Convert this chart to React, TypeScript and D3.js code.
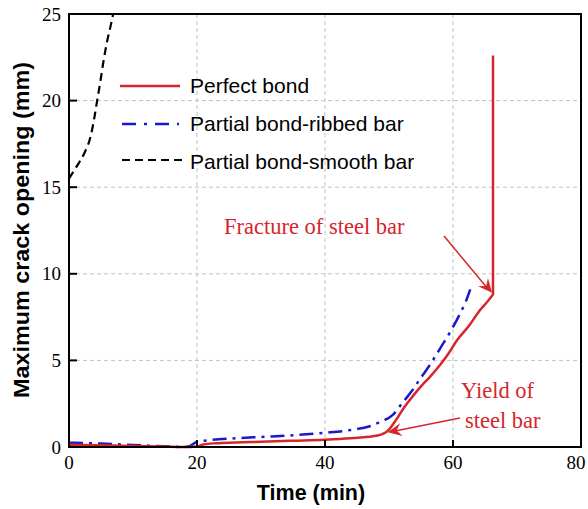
import React from "react";
import * as d3 from "d3";

const perfectX = [0, 5, 10, 15, 18, 20, 21, 23, 26, 30, 35, 40, 44, 46, 47.5, 48.6, 49.4, 50.1, 50.8, 51.6, 52.5, 53.75, 55, 56.4, 58, 59.3, 60.6, 62.5, 64.2, 65.4, 66.25];
const perfectY = [0.13, 0.1, 0.06, 0.02, 0.0, 0.03, 0.15, 0.22, 0.26, 0.3, 0.36, 0.42, 0.5, 0.56, 0.62, 0.7, 0.82, 1.05, 1.4, 1.85, 2.35, 2.95, 3.5, 4.05, 4.75, 5.4, 6.15, 7.0, 7.9, 8.4, 8.8];
const perfectFractureY = [8.8, 22.6];

const ribbedX = [0, 5, 10, 15, 18, 19, 20, 22, 26, 30, 35, 40, 44, 47, 48.6, 50.6, 52, 53.5, 54.8, 56.5, 58, 59.5, 61.1, 62, 62.7];
const ribbedY = [0.25, 0.2, 0.12, 0.04, 0.0, 0.08, 0.3, 0.4, 0.5, 0.58, 0.68, 0.82, 0.98, 1.2, 1.45, 1.85, 2.5, 3.2, 3.9, 4.8, 5.7, 6.6, 7.7, 8.4, 9.1];

const smoothX = [0, 1.2, 2.5, 3.2, 3.6, 4.0, 4.4, 4.9, 5.4, 6.0, 6.5, 6.9];
const smoothY = [15.5, 16.2, 17.05, 17.7, 18.3, 19.1, 20.0, 21.1, 22.3, 23.5, 24.3, 25.0];

const xTicks = [0, 20, 40, 60, 80];
const yTicks = [0, 5, 10, 15, 20, 25];

const RED = "#d7262b";
const BLUE = "#1a1acc";

export default function App() {
  const L = 69, R = 581, T = 14, B = 447;
  const x = d3.scaleLinear().domain([0, 80]).range([L, R]);
  const y = d3.scaleLinear().domain([0, 25]).range([B, T]);
  const smooth = d3.line<[number, number]>().x(d => x(d[0])).y(d => y(d[1])).curve(d3.curveMonotoneX);
  const zip = (a: number[], b: number[]) => a.map((v, i) => [v, b[i]] as [number, number]);
  const lastX = perfectX[perfectX.length - 1];
  const redPath = (smooth(zip(perfectX, perfectY)) || "") +
    `L${x(lastX)},${y(perfectFractureY[0])}L${x(lastX)},${y(perfectFractureY[1])}`;

  const arrowHead = (x1: number, y1: number, x2: number, y2: number) => {
    const ang = Math.atan2(y2 - y1, x2 - x1);
    const len = 14, w = 6.5, notch = 9;
    const bx = x2 - len * Math.cos(ang), by = y2 - len * Math.sin(ang);
    const nx = x2 - notch * Math.cos(ang), ny = y2 - notch * Math.sin(ang);
    const px = -Math.sin(ang), py = Math.cos(ang);
    return `M${x2},${y2} L${bx + px * w},${by + py * w} L${nx},${ny} L${bx - px * w},${by - py * w} Z`;
  };

  const a1 = { x1: 444, y1: 236, x2: x(66.1), y2: y(8.9) };
  const a2 = { x1: 460, y1: 418, x2: x(49.8), y2: y(0.85) };
  const serif = "Liberation Serif";
  const sans = "Liberation Sans";

  return (
    <svg width={588} height={509} style={{ position: "absolute", left: 0, top: 0 }}>
      <rect width={588} height={509} fill="#fff" />
      {xTicks.filter(t => t > 0 && t < 80).map(t => (
        <line key={"gx" + t} x1={x(t)} x2={x(t)} y1={T} y2={B} stroke="#c2c2c2" strokeWidth={1} strokeDasharray="4,3" />
      ))}
      {yTicks.filter(t => t > 0 && t < 25).map(t => (
        <line key={"gy" + t} x1={L} x2={R} y1={y(t)} y2={y(t)} stroke="#c2c2c2" strokeWidth={1} strokeDasharray="4,3" />
      ))}
      <path d={smooth(zip(smoothX, smoothY)) || ""} fill="none" stroke="#000" strokeWidth={2.2} strokeDasharray="8,5" />
      <path d={smooth(zip(ribbedX, ribbedY)) || ""} fill="none" stroke={BLUE} strokeWidth={2.5} strokeDasharray="14,6,3,6" />
      <path d={redPath} fill="none" stroke={RED} strokeWidth={2.5} strokeLinejoin="round" />
      <rect x={L} y={T} width={R - L} height={B - T} fill="none" stroke="#000" strokeWidth={2} />
      {xTicks.filter(t => t > 0 && t < 80).map(t => (
        <line key={"tx" + t} x1={x(t)} x2={x(t)} y1={B} y2={B - 7} stroke="#000" strokeWidth={2} />
      ))}
      {yTicks.filter(t => t > 0 && t < 25).map(t => (
        <line key={"ty" + t} x1={L} x2={L + 8} y1={y(t)} y2={y(t)} stroke="#000" strokeWidth={2} />
      ))}
      {xTicks.map(t => (
        <text key={"lx" + t} x={Math.min(x(t), 576)} y={B + 22} textAnchor="middle" fontFamily={serif} fontSize={19}>{t}</text>
      ))}
      {yTicks.map(t => (
        <text key={"ly" + t} x={L - 8} y={y(t) + 6.5} textAnchor="end" fontFamily={serif} fontSize={19}>{t}</text>
      ))}
      <text x={311} y={500} textAnchor="middle" fontFamily={sans} fontWeight="bold" fontSize={21.5}>Time (min)</text>
      <text transform={`translate(29,230) rotate(-90)`} textAnchor="middle" fontFamily={sans} fontWeight="bold" fontSize={21.5} textLength={336} lengthAdjust="spacingAndGlyphs">Maximum crack opening (mm)</text>
      <line x1={120} x2={180} y1={86} y2={86} stroke={RED} strokeWidth={2.5} />
      <text x={190} y={93} fontFamily={sans} fontSize={21}>Perfect bond</text>
      <line x1={122} x2={179} y1={124} y2={124} stroke={BLUE} strokeWidth={2.5} strokeDasharray="14,8,3,8" />
      <text x={190} y={131} fontFamily={sans} fontSize={21}>Partial bond-ribbed bar</text>
      <line x1={122} x2={183} y1={160} y2={160} stroke="#000" strokeWidth={2.2} strokeDasharray="8,5" />
      <text x={190} y={169} fontFamily={sans} fontSize={21}>Partial bond-smooth bar</text>
      <text x={224} y={234} fontFamily={serif} fontSize={22.5} fill={RED}>Fracture of steel bar</text>
      <line x1={a1.x1} y1={a1.y1} x2={a1.x2 - 5} y2={a1.y2 - 5} stroke={RED} strokeWidth={1.5} />
      <path d={arrowHead(a1.x1, a1.y1, a1.x2, a1.y2)} fill={RED} />
      <text x={461} y={398} fontFamily={serif} fontSize={22.5} fill={RED}>Yield of</text>
      <text x={465} y={428} fontFamily={serif} fontSize={22.5} fill={RED}>steel bar</text>
      <line x1={a2.x1} y1={a2.y1} x2={a2.x2 + 6} y2={a2.y2 - 1} stroke={RED} strokeWidth={1.5} />
      <path d={arrowHead(a2.x1, a2.y1, a2.x2, a2.y2)} fill={RED} />
    </svg>
  );
}
